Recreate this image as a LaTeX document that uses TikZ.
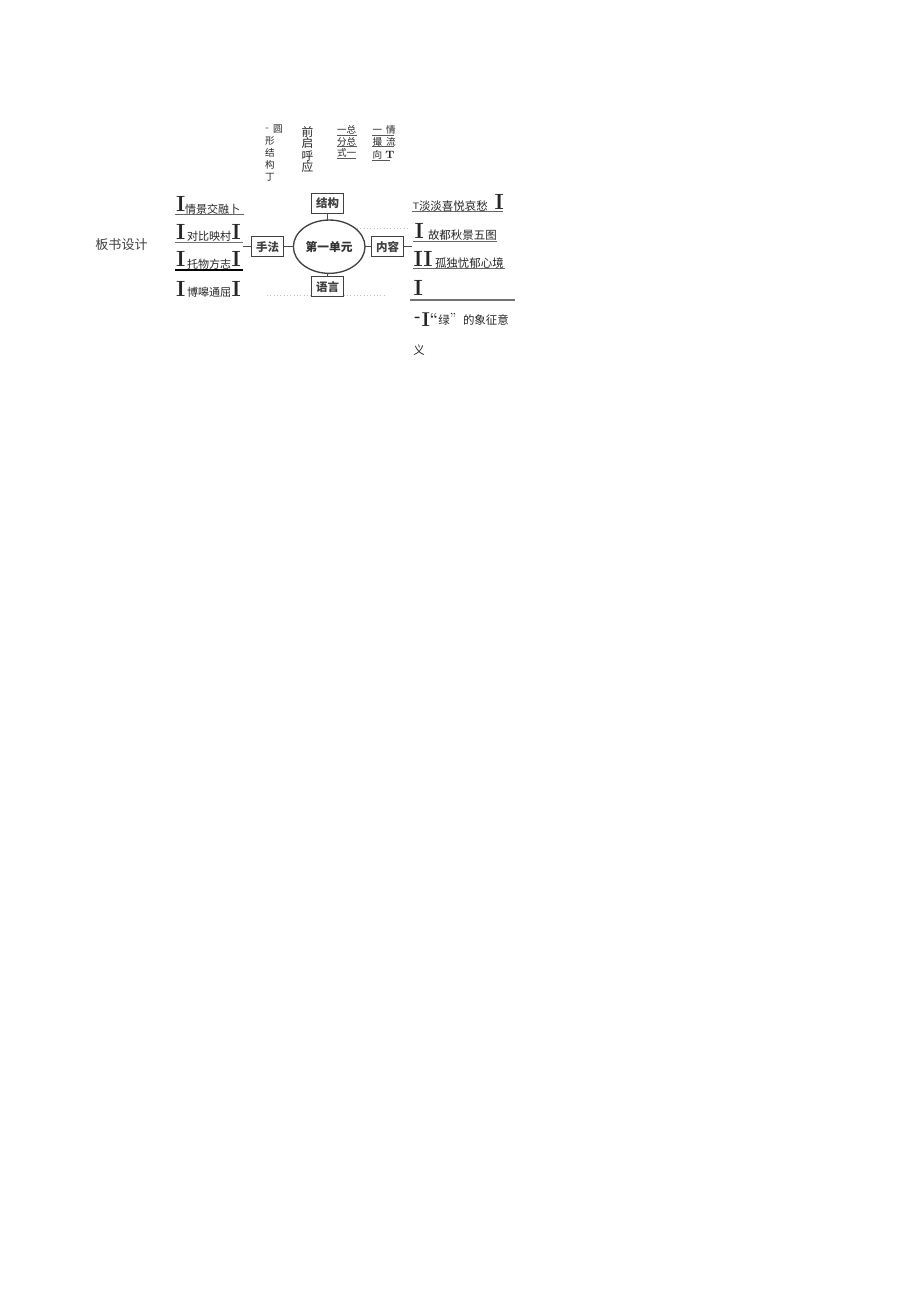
\documentclass[tikz,border=0pt]{standalone}
\usepackage{fontspec}
\usetikzlibrary{shapes.geometric}
\newfontfamily\cjk{Noto Sans CJK SC}
\newcommand\bigIfont{\bfseries\fontsize{16.5}{16.5}\selectfont}
\newcommand\midIfont{\bfseries\fontsize{15}{15}\selectfont}
\begin{document}
\begin{tikzpicture}[x=0.75pt,y=-0.75pt,
  every node/.style={inner sep=0pt, outer sep=0pt, text=black!85},
  listtxt/.style={anchor=west, font=\cjk\fontsize{8.3}{8.3}\selectfont},
  rtxt/.style={anchor=west, font=\cjk\fontsize{8.6}{8.6}\selectfont},
  bigi/.style={anchor=base west, font=\bigIfont},
  topt/.style={font=\cjk\fontsize{7.2}{7.2}\selectfont},
  topb/.style={font=\cjk\fontsize{8.8}{8.8}\selectfont},
  ul/.style={draw=black!75, line width=0.8pt},
  boxn/.style={draw=black!75, line width=1.1pt, fill=white, minimum width=23.7pt, minimum height=15pt, text=black!75, font=\cjk\bfseries\fontsize{8.6}{8.6}\selectfont},
  conn/.style={draw=black!70, line width=0.8pt},
  faint/.style={draw=black!25, dotted, line width=0.5pt}]
\useasboundingbox (0,0) rectangle (920,1301);

% title
\node[font=\cjk\fontsize{9.8}{9.8}\selectfont, text=black!75] (title) at (121.5,245) {板书设计};

% faint scan dots
\draw[faint] (267,295) -- (385,295);
\draw[faint] (357,228) -- (410,228);

% left list
\node[bigi] (l1i) at (176,211.7) {I};
\node[listtxt] (l1t) at (185,209) {情景交融卜};
\node[bigi] (l2i) at (176,240) {I};
\node[listtxt] (l2t) at (187,236.5) {对比映村};
\node[bigi] (l2j) at (231.5,240) {I};
\node[bigi] (l3i) at (176,266.7) {I};
\node[listtxt] (l3t) at (187,264) {托物方志};
\node[bigi] (l3j) at (231.5,266.7) {I};
\node[bigi] (l4i) at (176,296.7) {I};
\node[listtxt] (l4t) at (187,292) {博嗥通屈};
\node[bigi] (l4j) at (231.5,296.7) {I};
\coordinate (u1a) at (175,214.3); \coordinate (u1b) at (243.5,214.3);
\coordinate (u2a) at (175,242.3); \coordinate (u2b) at (243,242.3);
\coordinate (u3a) at (175,270); \coordinate (u3b) at (243,270);
\draw[ul, draw=black!60] (u1a) -- (u1b);
\draw[ul, draw=black!55] (u2a) -- (u2b);
\draw[ul, draw=black, line width=1pt] (u3a) -- (u3b);

% central structure
\node[ellipse, draw=black!75, line width=1pt, minimum width=53.7pt, minimum height=40pt, text=black!80, font=\cjk\bfseries\fontsize{8.8}{8.8}\selectfont] (center) at (329.2,246.7) {第一单元};
\node[boxn] (shoufa) at (267.5,246.7) {手法};
\node[boxn] (jiegou) at (327.5,203.3) {结构};
\node[boxn] (neirong) at (387.5,246.7) {内容};
\node[boxn] (yuyan) at (327.5,286.7) {语言};
\coordinate (lefthook) at (243,246.7);
\coordinate (righthook) at (412,246.7);
\draw[conn] (lefthook) -- (shoufa.west);
\draw[conn] (shoufa.east) -- (center.west);
\draw[conn] (jiegou.south) -- (jiegou.south |- center.north);
\draw[conn] (yuyan.north |- center.south) -- (yuyan.north);
\draw[conn] (center.east) -- (neirong.west);
\draw[conn] (neirong.east) -- (righthook);

% right list
\node[anchor=base west, font=\sffamily\fontsize{7}{7}\selectfont] (r1t0) at (412.5,209.5) {T};
\node[rtxt] (r1t) at (419,205.7) {淡淡喜悦哀愁};
\node[bigi] (r1i) at (494.5,210) {I};
\node[bigi] (r2i) at (414.5,238.3) {I};
\node[rtxt] (r2t) at (428,235) {故都秋景五图};
\node[bigi] (r3i) at (413.5,266.7) {II};
\node[rtxt] (r3t) at (435,263.3) {孤独忧郁心境};
\node[bigi] (r4i) at (413.5,296) {I};
\node[font=\bfseries\fontsize{12}{12}\selectfont] (r5d) at (417.5,319.5) {-};
\node[anchor=base west, font=\midIfont] (r5i) at (421.5,327) {I};
\node[font=\bfseries\fontsize{11}{11}\selectfont] (r5q1) at (434,318.5) {``};
\node[font=\cjk\fontsize{8.6}{8.6}\selectfont] (r5g) at (444,320) {绿};
\node[font=\fontsize{11}{11}\selectfont] (r5q2) at (453,318.5) {''};
\node[rtxt] (r5t) at (463,320) {的象征意};
\node[font=\cjk\fontsize{8.6}{8.6}\selectfont] (r6t) at (419,350) {义};
\coordinate (v1a) at (412,211.7); \coordinate (v1b) at (503,211.7);
\coordinate (v2a) at (413,241.5); \coordinate (v2b) at (497,241.5);
\coordinate (v3a) at (413,268.7); \coordinate (v3b) at (505,268.7);
\coordinate (v4a) at (410,300); \coordinate (v4b) at (515,300);
\draw[ul, draw=black!60] (v1a) -- (v1b);
\draw[ul, draw=black!60] (v2a) -- (v2b);
\draw[ul, draw=black!60] (v3a) -- (v3b);
\draw[ul, draw=black!55] (v4a) -- (v4b);

% top columns
\node[font=\fontsize{7}{7}\selectfont] (c1d) at (267.5,129) {-};
\node[topt] (c1a) at (278,129.5) {圆};
\node[topt] (c1b) at (270,140.5) {形};
\node[topt] (c1c) at (270,152.5) {结};
\node[topt] (c1e) at (270,164.5) {构};
\node[topt] (c1f) at (270,177) {丁};

\node[topb] (c2a) at (307.5,131.5) {前};
\node[topb] (c2b) at (307.5,143.5) {启};
\node[topb] (c2c) at (307.5,155.8) {呼};
\node[topb] (c2d) at (307.5,167.5) {应};

\node[topt, anchor=west] (c3a) at (337,130) {一总};
\node[topt, anchor=west] (c3b) at (337,141.7) {分总};
\node[topt, anchor=west] (c3c) at (337,153.3) {式一};
\coordinate (w1a) at (337,135); \coordinate (w1b) at (357,135);
\coordinate (w2a) at (337,146.7); \coordinate (w2b) at (357,146.7);
\coordinate (w3a) at (337,158); \coordinate (w3b) at (356,158);
\draw[draw=black!65, line width=0.5pt] (w1a) -- (w1b);
\draw[draw=black!65, line width=0.5pt] (w2a) -- (w2b);
\draw[draw=black!65, line width=0.5pt] (w3a) -- (w3b);

\node[topt, anchor=west] (c4a) at (372.5,130) {一\hspace{3pt}情};
\node[topt, anchor=west] (c4b) at (372.5,141.7) {撮\hspace{3pt}流};
\node[topt, anchor=west] (c4c) at (372.5,155) {向\hspace{2.5pt}{\fontsize{8}{8}\selectfont\bfseries\rmfamily T}};
\coordinate (x1a) at (372,135); \coordinate (x1b) at (394,135);
\coordinate (x2a) at (372,146.7); \coordinate (x2b) at (394,146.7);
\coordinate (x3a) at (372,160.5); \coordinate (x3b) at (390,160.5);
\draw[draw=black!65, line width=0.5pt] (x1a) -- (x1b);
\draw[draw=black!65, line width=0.5pt] (x2a) -- (x2b);
\draw[draw=black!65, line width=0.5pt] (x3a) -- (x3b);
\end{tikzpicture}
\end{document}
